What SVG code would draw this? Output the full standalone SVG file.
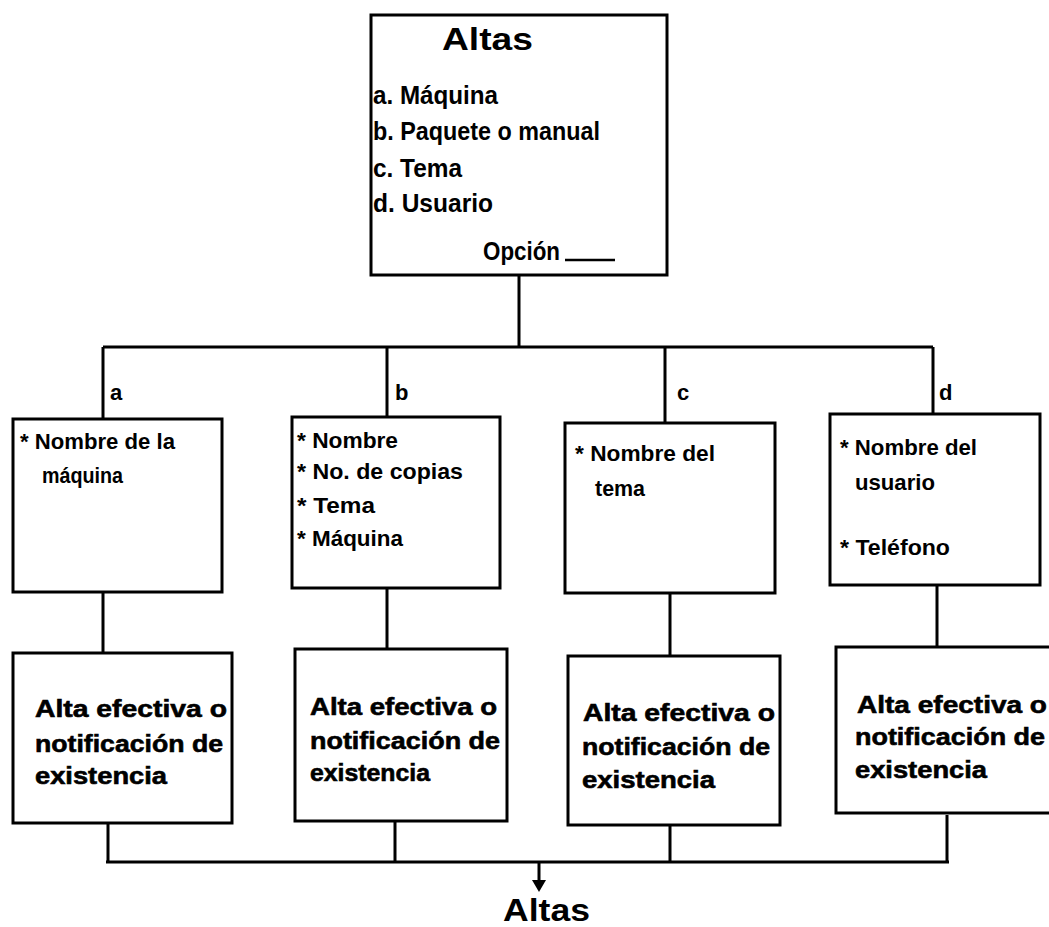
<svg xmlns="http://www.w3.org/2000/svg" width="1049" height="927" viewBox="0 0 1049 927">
<defs>
<style>
.box{fill:#fff;stroke:#000;stroke-width:3}
.ln{fill:none;stroke:#000;stroke-width:3}
.t{font-family:"Liberation Sans Narrow","Liberation Sans",Arial,sans-serif;font-weight:bold;font-size:25px;fill:#000}
.s{font-family:"Liberation Sans Narrow","Liberation Sans",Arial,sans-serif;font-weight:bold;font-size:22px;fill:#000}
.h{font-family:"Liberation Sans",Arial,sans-serif;font-weight:900;font-size:31px;fill:#000}
.k{font-family:"Liberation Sans",Arial,sans-serif;font-weight:900;font-size:24px;fill:#000;stroke:#000;stroke-width:0.6}
.lab{font-family:"Liberation Sans",Arial,sans-serif;font-weight:bold;font-size:22px;fill:#000}
</style>
</defs>
<rect width="1049" height="927" fill="#fff"/>

<g id="connectors">
<path class="ln" d="M519,275 V347 M103,347 H933 M103,347 V419 M387,347 V417 M665,347 V423 M933,347 V414"/>
<path class="ln" d="M103,592 V653 M387,588 V649 M670,593 V656 M937,585 V647"/>
<path class="ln" d="M108,823 V862 M395,821 V862 M670,825 V862 M947,815 V862 M106,862 H949"/>
<path class="ln" d="M539,862 V882"/>
<path d="M532,880 L546,880 L539,892 Z" fill="#000"/>
<text class="lab" x="110" y="400">a</text>
<text class="lab" x="395" y="400">b</text>
<text class="lab" x="677" y="400">c</text>
<text class="lab" x="939" y="400">d</text>
</g>

<g id="menu">
<rect class="box" x="371" y="15" width="296" height="260"/>
<text class="h" x="442" y="50" textLength="91" lengthAdjust="spacingAndGlyphs">Altas</text>
<text class="t" x="373" y="104" textLength="125" lengthAdjust="spacingAndGlyphs">a. Máquina</text>
<text class="t" x="373" y="140" textLength="227" lengthAdjust="spacingAndGlyphs">b. Paquete o manual</text>
<text class="t" x="373" y="177" textLength="89" lengthAdjust="spacingAndGlyphs">c. Tema</text>
<text class="t" x="373" y="212" textLength="120" lengthAdjust="spacingAndGlyphs">d. Usuario</text>
<text class="t" x="483" y="260" textLength="77" lengthAdjust="spacingAndGlyphs">Opción</text>
<line x1="565" y1="260" x2="615" y2="260" stroke="#000" stroke-width="2.5"/>
</g>

<g id="maquina">
<rect class="box" x="13" y="419" width="209" height="173"/>
<text class="s" x="20" y="449" textLength="155" lengthAdjust="spacingAndGlyphs">* Nombre de la</text>
<text class="s" x="42" y="483" textLength="81" lengthAdjust="spacingAndGlyphs">máquina</text>
</g>

<g id="paquete">
<rect class="box" x="292" y="417" width="208" height="171"/>
<text class="s" x="297" y="448" textLength="101" lengthAdjust="spacingAndGlyphs">* Nombre</text>
<text class="s" x="297" y="479" textLength="166" lengthAdjust="spacingAndGlyphs">* No. de copias</text>
<text class="s" x="297" y="513" textLength="78" lengthAdjust="spacingAndGlyphs">* Tema</text>
<text class="s" x="297" y="546" textLength="106" lengthAdjust="spacingAndGlyphs">* Máquina</text>
</g>

<g id="tema">
<rect class="box" x="565" y="423" width="210" height="170"/>
<text class="s" x="575" y="461" textLength="140" lengthAdjust="spacingAndGlyphs">* Nombre del</text>
<text class="s" x="595" y="496" textLength="50" lengthAdjust="spacingAndGlyphs">tema</text>
</g>

<g id="usuario">
<rect class="box" x="830" y="414" width="210" height="171"/>
<text class="s" x="840" y="455" textLength="137" lengthAdjust="spacingAndGlyphs">* Nombre del</text>
<text class="s" x="855" y="490" textLength="80" lengthAdjust="spacingAndGlyphs">usuario</text>
<text class="s" x="840" y="555" textLength="110" lengthAdjust="spacingAndGlyphs">* Teléfono</text>
</g>

<g id="alta-a">
<rect class="box" x="13" y="653" width="219" height="170"/>
<text class="k" x="35" y="717" textLength="192" lengthAdjust="spacingAndGlyphs">Alta efectiva o</text>
<text class="k" x="35" y="752" textLength="188" lengthAdjust="spacingAndGlyphs">notificación de</text>
<text class="k" x="35" y="784" textLength="132" lengthAdjust="spacingAndGlyphs">existencia</text>
</g>

<g id="alta-b">
<rect class="box" x="295" y="649" width="212" height="172"/>
<text class="k" x="310" y="715" textLength="187" lengthAdjust="spacingAndGlyphs">Alta efectiva o</text>
<text class="k" x="310" y="749" textLength="190" lengthAdjust="spacingAndGlyphs">notificación de</text>
<text class="k" x="310" y="781" textLength="120" lengthAdjust="spacingAndGlyphs">existencia</text>
</g>

<g id="alta-c">
<rect class="box" x="568" y="656" width="212" height="169"/>
<text class="k" x="583" y="721" textLength="192" lengthAdjust="spacingAndGlyphs">Alta efectiva o</text>
<text class="k" x="582" y="755" textLength="188" lengthAdjust="spacingAndGlyphs">notificación de</text>
<text class="k" x="582" y="788" textLength="133" lengthAdjust="spacingAndGlyphs">existencia</text>
</g>

<g id="alta-d">
<rect class="box" x="836" y="647" width="220" height="166"/>
<text class="k" x="857" y="713" textLength="190" lengthAdjust="spacingAndGlyphs">Alta efectiva o</text>
<text class="k" x="855" y="745" textLength="190" lengthAdjust="spacingAndGlyphs">notificación de</text>
<text class="k" x="855" y="778" textLength="132" lengthAdjust="spacingAndGlyphs">existencia</text>
</g>

<g id="resultado">
<text class="h" x="503" y="921" font-size="31" textLength="87" lengthAdjust="spacingAndGlyphs">Altas</text>
</g>
</svg>
